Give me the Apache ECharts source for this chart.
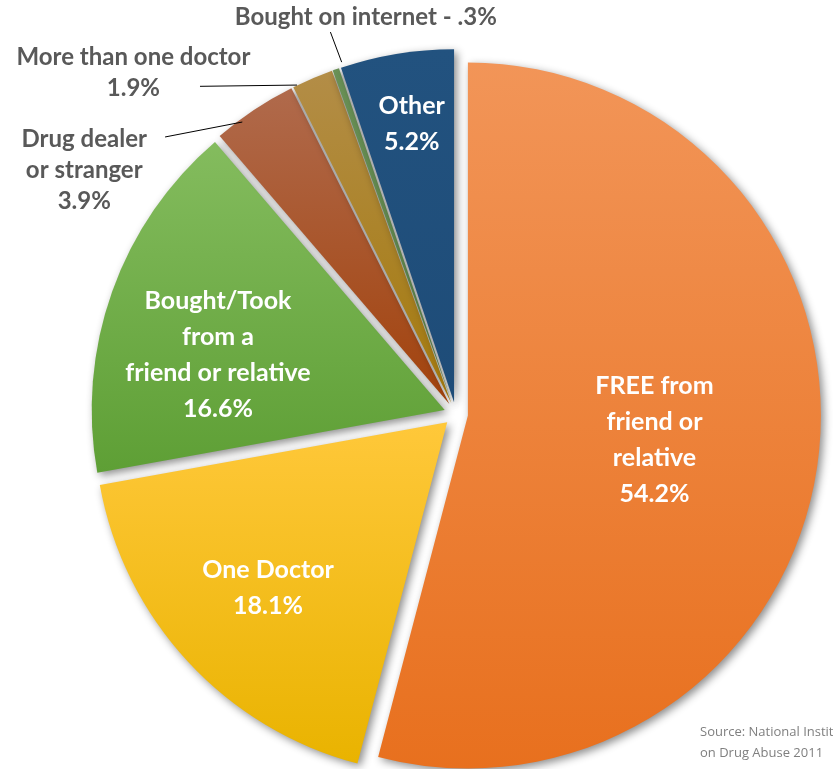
<!DOCTYPE html>
<html>
<head>
<meta charset="utf-8">
<script src="https://cdn.jsdelivr.net/npm/echarts@6/dist/echarts.min.js"></script>
<style>
html,body{margin:0;padding:0;background:#fff;}
#chart{width:833px;height:769px;}
</style>
</head>
<body>
<div id="chart"></div>
<script>
// ---- data ----
const categories = ['FREE from friend or relative', 'One Doctor', 'Bought/Took from a friend or relative', 'Drug dealer or stranger', 'More than one doctor', 'Bought on internet', 'Other'];
const values = [54.2, 18.1, 16.6, 3.9, 1.9, 0.3, 5.2];
const labelTexts = ['FREE from\nfriend or\nrelative\n54.2%', 'One Doctor\n18.1%', 'Bought/Took\nfrom a\nfriend or relative\n16.6%', 'Drug dealer\nor stranger\n3.9%', 'More than one doctor\n1.9%', 'Bought on internet - .3%', 'Other\n5.2%'];
const sourceText = 'Source: National Institute\non Drug Abuse 2011';

// ---- style ----
const CX = 456, CY = 414, R = 353, OFF = 12;
const gradTop = ['#F29558', '#FFC83A', '#84BC5E', '#B06A4C', '#B38D47', '#6A9156', '#22527F'];
const gradBot = ['#E8701E', '#E9B300', '#5E9F35', '#A2420C', '#A47A0C', '#577E45', '#1E4C78'];
const inside = [true, true, true, false, false, false, true];
// label anchor: [angle deg clockwise from top (null = mid), radius fraction]
const labelAnchor = [[null, 0.567], [null, 0.725], [284, 0.695], [303.3, 1.26], [316.6, 1.33], [347.2, 1.153], [351.3, 0.83]];
// label line start / end (outside labels): [angle, radius fraction]
const lineStart = [null, null, null, [323.8, 1.025], [334.2, 1.035], [342, 1.048], null];
const lineEnd = [null, null, null, [313.6, 1.138], [322, 1.178], [341.8, 1.139], null];

const total = values.reduce((a, b) => a + b, 0);
const midAngles = [];
{
  let acc = 0;
  values.forEach(v => { midAngles.push((acc + v / 2) / total * 360); acc += v; });
}
function polar(angDeg, rad) {
  const a = angDeg * Math.PI / 180;
  return [CX + rad * Math.sin(a), CY - rad * Math.cos(a)];
}

const chart = echarts.init(document.getElementById('chart'), null, {renderer: 'canvas'});

const shapeData = categories.map((name, i) => ({
  name: name,
  value: values[i],
  selected: true,
  itemStyle: {
    color: new echarts.graphic.LinearGradient(0, 0, 0, 1, [
      {offset: 0, color: gradTop[i]}, {offset: 1, color: gradBot[i]}
    ])
  }
}));

const labelData = categories.map((name, i) => ({
  name: name,
  value: values[i],
  label: inside[i] ? {
    position: 'inside', color: '#ffffff', fontSize: 25, lineHeight: 36
  } : {
    position: 'outside', color: '#595959', fontSize: 24, lineHeight: 31
  },
  labelLine: {show: !inside[i], lineStyle: {color: '#000', width: 1}}
}));

chart.setOption({
  animation: false,
  backgroundColor: '#ffffff',
  series: [{
    type: 'pie',
    center: [CX, CY],
    radius: [0, R],
    startAngle: 90,
    clockwise: true,
    selectedMode: 'multiple',
    selectedOffset: OFF,
    avoidLabelOverlap: false,
    emphasis: {disabled: true},
    silent: true,
    itemStyle: {
      shadowBlur: 8, shadowColor: 'rgba(0,0,0,0.45)', shadowOffsetX: 3, shadowOffsetY: 3
    },
    label: {show: false},
    labelLine: {show: false},
    data: shapeData
  }, {
    type: 'pie',
    center: [CX, CY],
    radius: [0, R],
    startAngle: 90,
    clockwise: true,
    selectedMode: false,
    avoidLabelOverlap: false,
    emphasis: {disabled: true},
    silent: true,
    z: 5,
    itemStyle: {color: 'rgba(0,0,0,0)', borderWidth: 0},
    label: {
      show: true,
      fontFamily: 'Lato',
      fontWeight: 'bold',
      align: 'center',
      formatter: p => labelTexts[p.dataIndex]
    },
    labelLayout: function (params) {
      const i = params.dataIndex;
      const anc = labelAnchor[i];
      const ang = anc[0] == null ? midAngles[i] : anc[0];
      const pt = polar(ang, anc[1] * R);
      const res = {x: pt[0], y: pt[1], align: 'center', verticalAlign: 'middle'};
      if (lineEnd[i]) {
        const s = polar(lineStart[i][0], lineStart[i][1] * R);
        const e = polar(lineEnd[i][0], lineEnd[i][1] * R);
        res.labelLinePoints = [s, e];
      }
      return res;
    },
    data: labelData
  }],
  graphic: [{
    type: 'text',
    left: 700, top: 722,
    style: {text: sourceText, fontFamily: 'Open Sans', fontSize: 13, lineHeight: 21, fill: '#7F7F7F'}
  }]
});
</script>
</body>
</html>
